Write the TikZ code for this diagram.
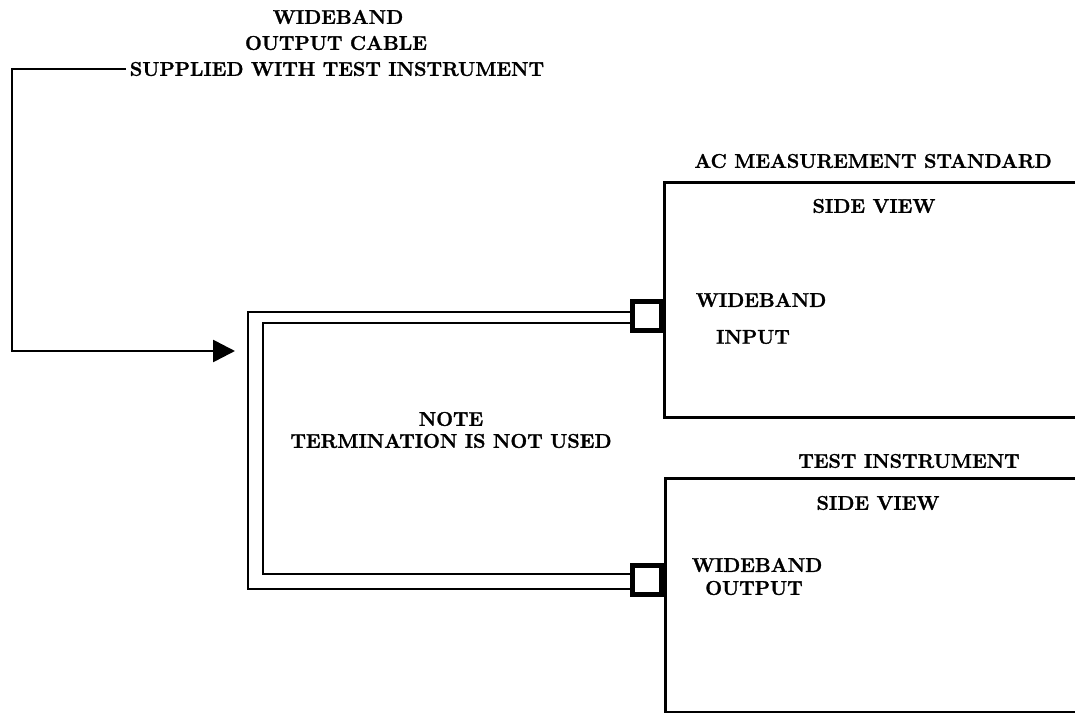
\documentclass[tikz,border=0pt]{standalone}
\usepackage{fontspec}
\setmainfont{Latin Modern Roman}[BoldFeatures={FakeBold=1.4}]
\usetikzlibrary{arrows.meta,calc}
\begin{document}
\begin{tikzpicture}[
  x=0.02cm,y=-0.02cm,
  every node/.style={font=\fontsize{11.3}{12.5}\selectfont\bfseries,inner sep=1pt},
  unit/.style={draw,line width=1.5pt,anchor=north west,minimum width=9cm,minimum height=4.7cm},
  port/.style={draw,line width=2.6pt,fill=white,minimum size=0.58cm,inner sep=0pt},
  cable/.style={line width=1.2pt},
  lead/.style={-{Triangle[length=0.44cm,width=0.44cm]},line width=1.5pt}
]
  \useasboundingbox (0,0) rectangle (1075,713);
  \node[unit] (acs) at (663,181) {};
  \node[unit,minimum height=4.68cm] (ti) at (664,477) {};
  \node (acsname) at (873,161) {AC MEASUREMENT STANDARD};
  \node (acsview) at (874,206) {SIDE VIEW};
  \node (inA) at (761,300) {WIDEBAND};
  \node (inB) at (753,337) {INPUT};
  \node (tiname) at (909,461) {TEST INSTRUMENT};
  \node (tiview) at (878,503) {SIDE VIEW};
  \node (outA) at (757,565) {WIDEBAND};
  \node (outB) at (754,588) {OUTPUT};
  \node[align=center] (note) at (451,430) {NOTE\\TERMINATION IS NOT USED};
  \node (w1) at (338,17) {WIDEBAND};
  \node (w2) at (336,43) {OUTPUT CABLE};
  \node[inner sep=2pt] (supp) at (337,69) {SUPPLIED WITH TEST INSTRUMENT};
  \node[port] (pin) at (647,316) {};
  \node[port] (pout) at (647,580) {};
  \draw[cable] ($(pin.west)+(0,-4)$) -| ($(pout.west)+(-382,9)$) -- ($(pout.west)+(0,9)$);
  \draw[cable] ($(pin.west)+(0,7)$) -| ($(pout.west)+(-367,-6)$) -- ($(pout.west)+(0,-6)$);
  \coordinate (bend) at (12,351);
  \coordinate (tip) at (235,351);
  \draw[lead] (supp.west) -| (bend) -- (tip);
\end{tikzpicture}
\end{document}
